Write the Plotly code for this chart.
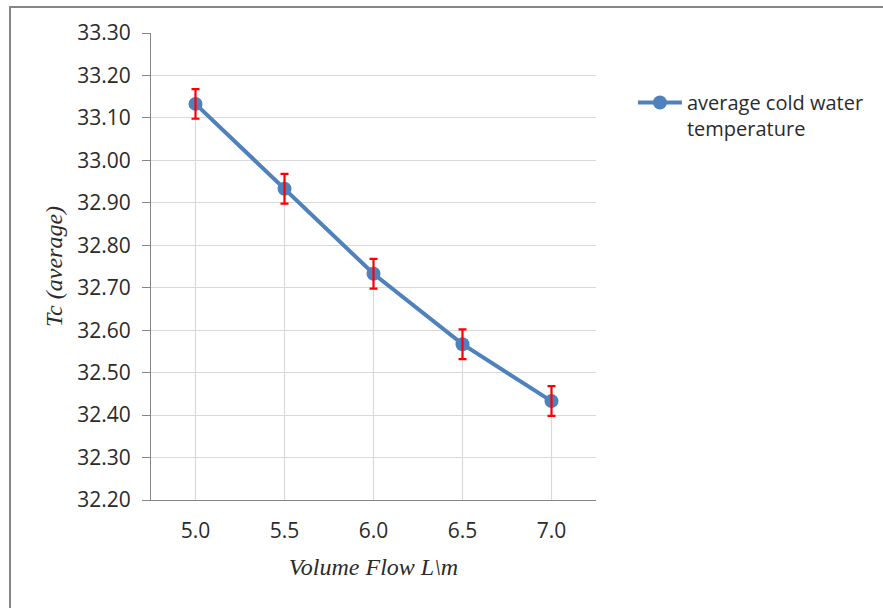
import plotly.graph_objects as go

# Measured series
flow_labels = ["5.0", "5.5", "6.0", "6.5", "7.0"]
tc_average = [33.133, 32.933, 32.733, 32.567, 32.433]
tc_error = [0.035, 0.035, 0.035, 0.035, 0.035]

# Axis settings
y_min, y_max, y_step = 32.20, 33.30, 0.10
series_name = "average cold water<br>temperature"

blue = "#4f81bd"
tick_font = dict(family="Open Sans", size=21, color="#2b2b2b")
title_font = dict(family="Liberation Serif", size=24, color="#2b2b2b")

fig = go.Figure()

# Drop lines from each point down to the category axis
drop_x, drop_y = [], []
for lab, val in zip(flow_labels, tc_average):
    drop_x += [lab, lab, None]
    drop_y += [val, y_min, None]
fig.add_trace(go.Scatter(
    x=drop_x, y=drop_y, mode="lines",
    line=dict(color="#d9d9d9", width=1.2),
    showlegend=False, hoverinfo="skip",
))

# Main series
fig.add_trace(go.Scatter(
    x=flow_labels, y=tc_average, mode="lines+markers", name=series_name,
    line=dict(color=blue, width=4),
    marker=dict(color=blue, size=14),
))

# Error bars drawn on top of the markers
fig.add_trace(go.Scatter(
    x=flow_labels, y=tc_average, mode="markers",
    marker=dict(size=1, color="rgba(0,0,0,0)"),
    error_y=dict(type="data", array=tc_error, visible=True,
                 color="#ff0000", thickness=2.2, width=4),
    showlegend=False, hoverinfo="skip",
))

n_ticks = int(round((y_max - y_min) / y_step)) + 1
y_ticks = [round(y_min + i * y_step, 2) for i in range(n_ticks)]

fig.update_layout(
    width=883, height=608,
    margin=dict(l=151, r=287, t=33, b=108),
    paper_bgcolor="white", plot_bgcolor="white",
    showlegend=True,
    legend=dict(
        x=1.083, y=0.893, xanchor="left", yanchor="top",
        font=dict(family="Open Sans", size=20, color="#2b2b2b"),
        valign="top", bgcolor="rgba(0,0,0,0)",
        itemwidth=44,
    ),
    xaxis=dict(
        type="category", range=[-0.5, len(flow_labels) - 0.5],
        showgrid=False, showline=True, linecolor="#868686", linewidth=1,
        ticks="", tickfont=tick_font, ticklabelstandoff=12,
        title=dict(text="<i>Volume Flow L\\m</i>", font=title_font, standoff=14),
        zeroline=False,
    ),
    yaxis=dict(
        range=[y_min, y_max], tickvals=y_ticks,
        ticktext=[f"{v:.2f}" for v in y_ticks],
        showgrid=True, gridcolor="#d9d9d9", gridwidth=1,
        showline=True, linecolor="#868686", linewidth=1,
        ticks="outside", ticklen=8, tickcolor="#868686",
        tickfont=tick_font, ticklabelstandoff=7,
        title=dict(text="<i>Tc (average)</i>", font=title_font, standoff=7),
        zeroline=False,
    ),
    shapes=[dict(
        type="rect", xref="paper", yref="paper",
        x0=(10 - 151) / 445, x1=(895 - 151) / 445,
        y0=(500 - 620) / 467, y1=(500 - 7) / 467,
        line=dict(color="#868686", width=2), fillcolor="rgba(0,0,0,0)",
        layer="below",
    )],
)

fig.write_html("out.html")
